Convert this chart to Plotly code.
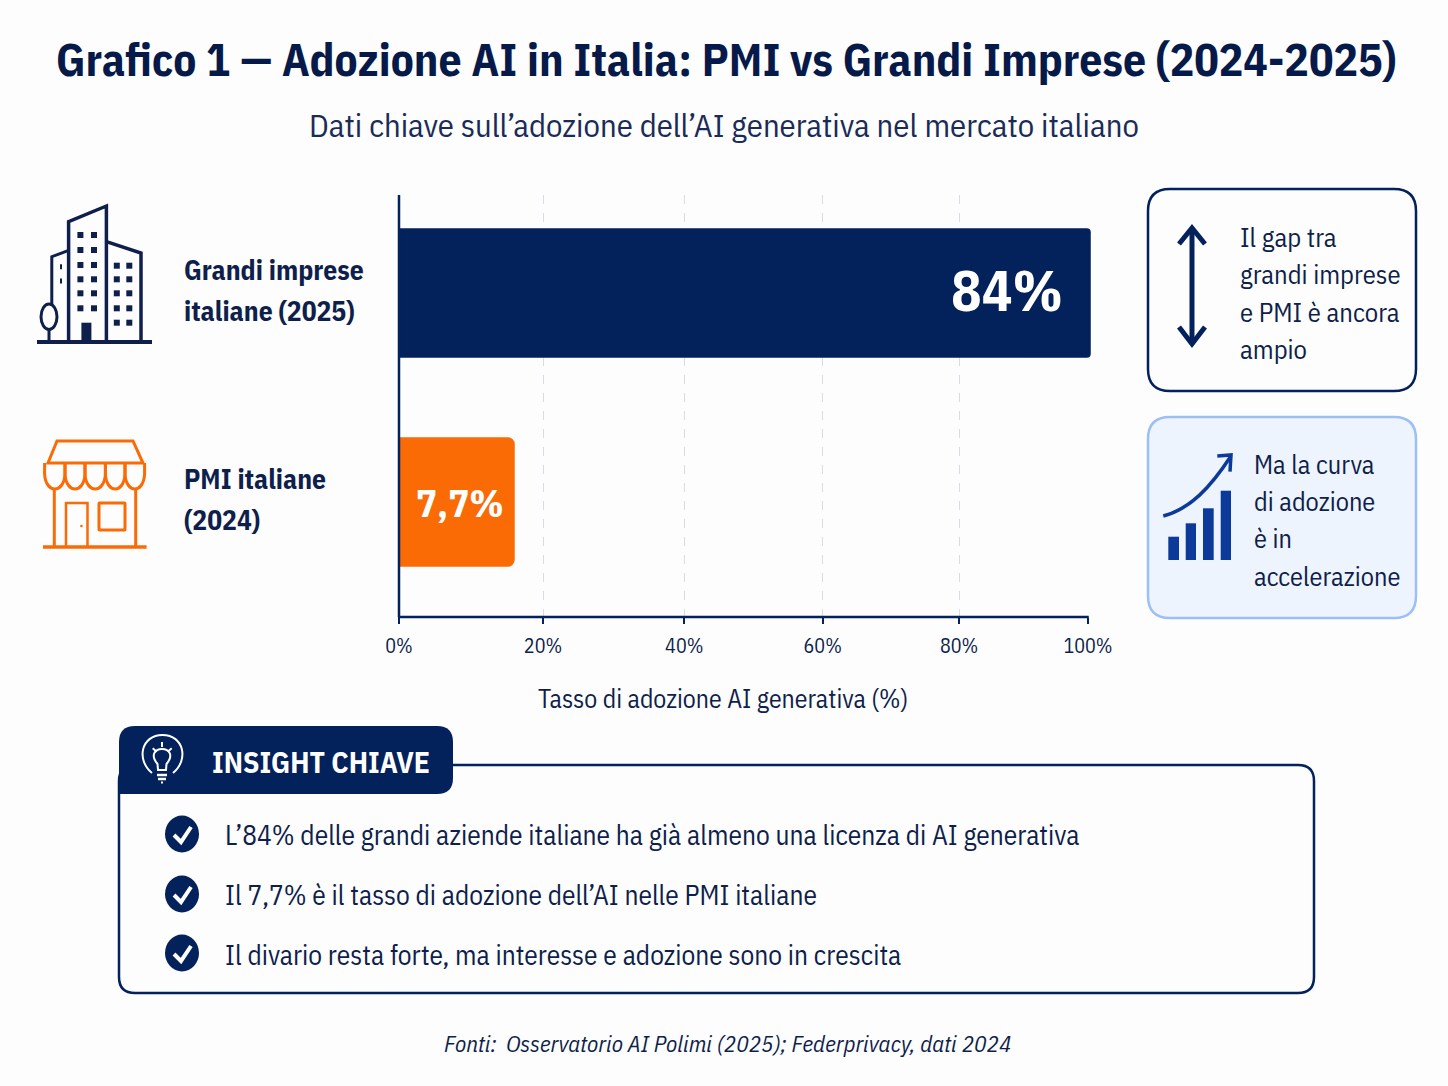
import plotly.graph_objects as go

W = 1448
H = 1086
NAVY = "#03215A"
INK = "#0F1F4B"
ORANGE = "#FA6A05"
BLUE = "#0B3A9B"
FONT = "IBM Plex Sans Condensed, Fira Sans Condensed, DejaVu Sans Condensed, Roboto, sans-serif"

# Chart values
categories = ["PMI italiane (2024)", "Grandi imprese italiane (2025)"]
# Bar ends as drawn against the axis; the printed labels say something else
bar_reach = [16.8, 100.4]
bar_labels = ["7,7%", "84%"]
bar_colors = [ORANGE, NAVY]
tick_values = [0, 20.9, 41.4, 61.5, 81.3, 100]
tick_labels = ["0%", "20%", "40%", "60%", "80%", "100%"]

title_text = "Grafico 1 — Adozione AI in Italia: PMI vs Grandi Imprese (2024-2025)"
subtitle_text = "Dati chiave sull’adozione dell’AI generativa nel mercato italiano"
axis_title = "Tasso di adozione AI generativa (%)"
source_text = "Fonti:  Osservatorio AI Polimi (2025); Federprivacy, dati 2024"
big_label = ["Grandi imprese", "italiane (2025)"]
small_label = ["PMI italiane", "(2024)"]
gap_lines = ["Il gap tra", "grandi imprese", "e PMI è ancora", "ampio"]
curve_lines = ["Ma la curva", "di adozione", "è in", "accelerazione"]
insight_title = "INSIGHT CHIAVE"
insight_lines = [
    "L’84% delle grandi aziende italiane ha già almeno una licenza di AI generativa",
    "Il 7,7% è il tasso di adozione dell’AI nelle PMI italiane",
    "Il divario resta forte, ma interesse e adozione sono in crescita",
]


# Pixel position to paper coordinates
def px(x):
    return x / W


def py(y):
    return 1 - y / H


# Build an svg path in paper coordinates from pixel points
def makePath(cmds):
    out = []
    for c in cmds:
        if c == "Z":
            out.append("Z")
            continue
        vals = c[1:]
        pts = []
        for i in range(0, len(vals), 2):
            pts.append(f"{px(vals[i]):.5f},{py(vals[i + 1]):.5f}")
        out.append(c[0] + " ".join(pts))
    return " ".join(out)


shapes = []


def addPath(cmds, color, width=0, fill=None):
    shapes.append(dict(type="path", xref="paper", yref="paper", path=makePath(cmds),
                       line=dict(color=color, width=width), fillcolor=fill or "rgba(0,0,0,0)"))


def addLine(points, color, width):
    cmds = [("M", points[0][0], points[0][1])]
    for p in points[1:]:
        cmds.append(("L", p[0], p[1]))
    addPath(cmds, color, width)


def addRect(x0, y0, x1, y1, fill):
    shapes.append(dict(type="rect", xref="paper", yref="paper", x0=px(x0), x1=px(x1), y0=py(y0), y1=py(y1),
                       line=dict(width=0), fillcolor=fill))


def addOval(cx, cy, rx, ry, line_color, width=0, fill=None):
    shapes.append(dict(type="circle", xref="paper", yref="paper", x0=px(cx - rx), x1=px(cx + rx),
                       y0=py(cy - ry), y1=py(cy + ry), line=dict(color=line_color, width=width),
                       fillcolor=fill or "rgba(0,0,0,0)"))


# Rounded box, r is the corner radius in pixels
def roundBox(x0, y0, x1, y1, r):
    return [("M", x0 + r, y0), ("L", x1 - r, y0), ("Q", x1, y0, x1, y0 + r), ("L", x1, y1 - r),
            ("Q", x1, y1, x1 - r, y1), ("L", x0 + r, y1), ("Q", x0, y1, x0, y1 - r), ("L", x0, y0 + r),
            ("Q", x0, y0, x0 + r, y0), "Z"]


annotations = []


def addText(text, x, y, size, color=INK, anchor="left", bold=False, italic=False):
    if bold:
        text = f"<b>{text}</b>"
    if italic:
        text = f"<i>{text}</i>"
    annotations.append(dict(text=text, x=px(x), y=py(y), xref="paper", yref="paper", showarrow=False,
                            xanchor=anchor, yanchor="middle", borderpad=0, borderwidth=0,
                            font=dict(family=FONT, size=size, color=color)))


# Axis lines, the bottom one stops at 100% while the big bar runs past it
addLine([(399, 195), (399, 617)], NAVY, 2.5)
addLine([(398, 617), (1088.8, 617)], NAVY, 2.5)

# Building icon
addLine([(37, 342), (152, 342)], INK, 4)
addLine([(68.6, 340), (68.6, 221.7), (106.4, 206), (106.4, 340)], INK, 3.5)
addLine([(106.4, 241.7), (141, 253), (141, 340)], INK, 3.5)
addLine([(68, 250.7), (51.8, 256.7), (51.8, 305)], INK, 3)
addOval(49, 316.7, 8, 12.7, INK, 3)
addLine([(49, 329), (49, 342)], INK, 3)
addRect(81.4, 322.7, 91.4, 341, INK)
for wx in [80.4, 94]:
    for wy in [235, 250, 265, 279.3, 293.3, 308.3]:
        addRect(wx - 3, wy - 3, wx + 3, wy + 3, INK)
for wx in [116.8, 129.3]:
    for wy in [265.7, 279.3, 293.3, 308.3, 322.7]:
        addRect(wx - 3, wy - 3, wx + 3, wy + 3, INK)
for wy in [266.7, 281]:
    addRect(60, wy - 2.5, 62, wy + 2.5, INK)

# Store icon
addPath([("M", 48, 463), ("L", 57, 441), ("L", 133, 441), ("L", 143, 463), "Z"], ORANGE, 3)
scallop_x = [44.6, 65, 85, 105.4, 125, 144.6]
for i in range(5):
    x0 = scallop_x[i]
    x1 = scallop_x[i + 1]
    addPath([("M", x0, 463), ("L", x0, 474), ("C", x0 + 1, 494, x1 - 1, 494, x1, 474), ("L", x1, 463)], ORANGE, 3)
addLine([(54.3, 488), (54.3, 546)], ORANGE, 3)
addLine([(135.7, 488), (135.7, 546)], ORANGE, 3)
addLine([(43, 547), (146.6, 547)], ORANGE, 3.5)
addLine([(66, 547), (66, 503), (87.5, 503), (87.5, 547)], ORANGE, 2.5)
addPath(roundBox(99, 503, 125, 530, 0.5), ORANGE, 3)
addOval(81.4, 526, 1.3, 1.3, ORANGE, 0, ORANGE)

# Side panels
addPath(roundBox(1148, 189, 1416, 391, 22), NAVY, 2.5, "#FDFDFE")
addPath(roundBox(1148, 417, 1416, 618, 22), "#9CC0F5", 2.5, "#EEF4FE")

# Up and down arrow
addLine([(1192, 229), (1192, 343)], NAVY, 5)
addLine([(1179, 244), (1192, 228), (1205, 244)], NAVY, 5)
addLine([(1179, 327), (1192, 344), (1205, 327)], NAVY, 5)

# Growth icon
for bx0, bx1, top in [(1168.3, 1179, 536.7), (1185.7, 1196, 523.3), (1203, 1213.7, 508.3), (1220.7, 1231, 490.7)]:
    addRect(bx0, top, bx1, 560, BLUE)
addPath([("M", 1163.3, 516), ("C", 1190, 509, 1210, 488, 1231, 456)], BLUE, 3.5)
addLine([(1217.3, 456), (1231, 455), (1230, 471.7)], BLUE, 3.5)

# Insight box and its header tab
addPath(roundBox(119, 765, 1314, 993, 16), NAVY, 2.5)
addPath([("M", 135, 726), ("L", 437, 726), ("Q", 453, 726, 453, 742), ("L", 453, 778), ("Q", 453, 794, 437, 794),
         ("L", 119, 794), ("L", 119, 742), ("Q", 119, 726, 135, 726), "Z"], NAVY, 0, NAVY)

# Light bulb icon
bulb = "#FFFFFF"
addPath([("M", 152, 773), ("C", 136, 760, 141, 735, 162.5, 735), ("C", 184, 735, 189, 760, 173, 773)], bulb, 2)
addPath([("M", 158, 770), ("L", 157.5, 764), ("C", 150, 755, 155, 749, 162, 749), ("C", 169, 749, 174, 755, 166.5, 764),
         ("L", 166, 770), "Z"], bulb, 2)
addLine([(157, 775), (167, 775)], bulb, 2.5)
addLine([(158, 779), (166, 779)], bulb, 2.5)
addLine([(161, 782.5), (163, 782.5)], bulb, 2)
addLine([(162, 742), (162, 747)], bulb, 2)
addLine([(152.7, 748.3), (156.7, 751.7)], bulb, 2)
addLine([(171.7, 748.3), (167.7, 751.7)], bulb, 2)

# Check marks
for cy in [834, 894, 953]:
    addOval(182, cy, 17, 18.5, NAVY, 0, NAVY)
    addLine([(174, cy + 1), (181, cy + 8), (191, cy - 7)], "#FFFFFF", 4)

# Texts
addText(title_text, 726, 59, 45.5, "#061A4A", "center", bold=True)
addText(subtitle_text, 724, 125, 32.6, "#1A2C56", "center")
for i, line in enumerate(big_label):
    addText(line, 184, 270 + i * 41, 27.5, INK, bold=True)
for i, line in enumerate(small_label):
    addText(line, 184, 479 + i * 41, 27.5, INK, bold=True)
for i, line in enumerate(gap_lines):
    addText(line, 1240, 237 + i * 37.4, 26.5)
for i, line in enumerate(curve_lines):
    addText(line, 1254, 464 + i * 37.2, 26.2)
addText(axis_title, 723, 698, 25.7, anchor="center")
addText(insight_title, 212, 762, 29.5, "#FFFFFF", bold=True)
for i, line in enumerate(insight_lines):
    addText(line, 225, 835 + i * 60, 27.3)
addText(source_text, 727, 1043, 23, anchor="center", italic=True)

# Bar value labels
addText(bar_labels[1], 1063, 290, 57, "#FFFFFF", "right", bold=True)
addText(bar_labels[0], 460, 502, 39, "#FFFFFF", "center", bold=True)

fig = go.Figure()
for i in range(len(categories)):
    fig.add_trace(go.Bar(y=[categories[i]], x=[bar_reach[i]], orientation="h", width=0.62,
                         marker=dict(color=bar_colors[i], cornerradius=7 if i == 0 else 4, line=dict(width=0)),
                         showlegend=False, hoverinfo="skip"))

# Axis runs a little past 100 so the big bar keeps its rounded end.
# Grid goes through minor ticks because the reference has no line at 0 or 100.
fig.update_layout(
    width=W,
    height=H,
    margin=dict(l=0, r=0, t=0, b=0, autoexpand=False),
    paper_bgcolor="#FDFDFE",
    plot_bgcolor="rgba(0,0,0,0)",
    barmode="overlay",
    shapes=shapes,
    annotations=annotations,
    xaxis=dict(domain=[px(399), px(1092)], range=[0, 100.58], tickmode="array", tickvals=tick_values,
               ticktext=tick_labels, showgrid=False, zeroline=False, showline=False, ticks="outside",
               ticklen=6, ticklabelstandoff=5, tickcolor=NAVY, tickwidth=2,
               tickfont=dict(family=FONT, size=20, color=INK),
               minor=dict(tickmode="array", tickvals=tick_values[1:-1], showgrid=True, gridcolor="#D9DCE4",
                          griddash="dash", gridwidth=1.2, ticks="")),
    yaxis=dict(domain=[py(617), py(195)], range=[-0.55, 1.469], type="category", categoryorder="array",
               categoryarray=categories, showticklabels=False, showgrid=False, zeroline=False,
               showline=False, ticks=""),
)

fig.write_html("out.html", post_script="document.body.style.margin='0';", config=dict(displayModeBar=False))
